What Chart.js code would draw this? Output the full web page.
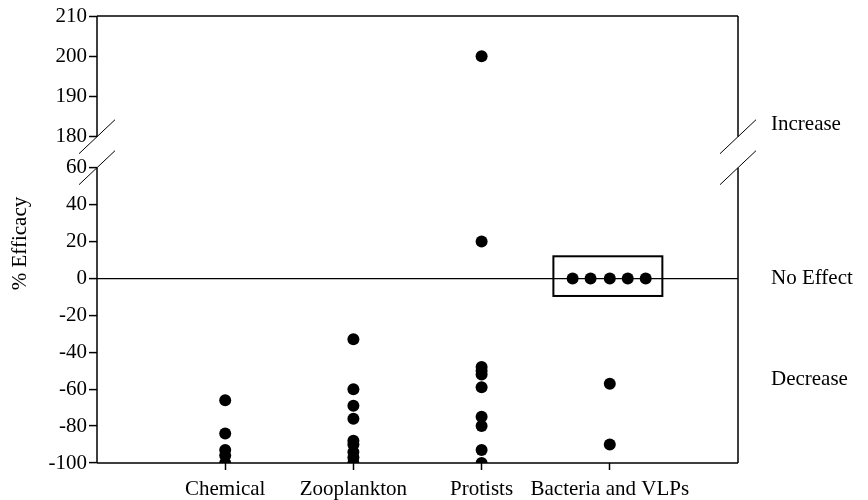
<!DOCTYPE html>
<html>
<head>
<meta charset="utf-8">
<script src="https://cdn.jsdelivr.net/npm/chart.js@4.4.0/dist/chart.umd.min.js"></script>
<style>
  html, body { margin: 0; padding: 0; background: #fff; }
  #wrap { width: 868px; height: 500px; }
</style>
</head>
<body>
<div id="wrap"><canvas id="myChart"></canvas></div>
<script>
// data
const categories = ['Chemical', 'Zooplankton', 'Protists', 'Bacteria and VLPs'];
const chemical = [-66, -84, -93, -96, -100];
const zooplankton = [-33, -60, -69, -76, -88, -90, -94, -97, -100];
const protists = [200, 20, -48, -50, -52, -59, -75, -80, -93, -100];
const bacteria = [0, 0, 0, 0, 0, -57, -90];
const bacteriaOffsets = [-0.29, -0.15, 0, 0.14, 0.28, 0, 0];
const lowerTicks = [-100, -80, -60, -40, -20, 0, 20, 40, 60];
const upperTicks = [180, 190, 200, 210];
const sideLabels = ['Increase', 'No Effect', 'Decrease'];

const FONT = 'Liberation Serif';
const FSIZE = 21;
const series = [chemical, zooplankton, protists, bacteria];

// split points into the lower and the upper (broken) part of the axis
var lowPts = [], highPts = [];
series.forEach(function (vals, i) {
    vals.forEach(function (v, j) {
        var off = (i === 3) ? bacteriaOffsets[j] : 0;
        var p = { x: i + 1 + off, y: v };
        if (v >= 180) highPts.push(p); else lowPts.push(p);
    });
});

const framePlugin = {
    id: 'frame',
    afterDraw(chart) {
        const ctx = chart.ctx;
        const a = chart.chartArea;
        const lo = chart.scales.y, hi = chart.scales.yTop, xs = chart.scales.x;
        const yBreakTop = hi.getPixelForValue(180);
        const yBreakBot = lo.getPixelForValue(60);
        ctx.save();
        ctx.strokeStyle = '#000';
        ctx.lineWidth = 1.5;
        ctx.beginPath();
        ctx.moveTo(a.left, a.top); ctx.lineTo(a.right, a.top);
        ctx.moveTo(a.left, a.bottom); ctx.lineTo(a.right, a.bottom);
        [a.left, a.right].forEach(function (x) {
            ctx.moveTo(x, a.top); ctx.lineTo(x, yBreakTop);
            ctx.moveTo(x, yBreakBot); ctx.lineTo(x, a.bottom);
        });
        ctx.stroke();

        // break slashes
        ctx.lineWidth = 1;
        ctx.beginPath();
        [a.left, a.right].forEach(function (x) {
            [yBreakTop, yBreakBot].forEach(function (y) {
                ctx.moveTo(x - 18, y + 17);
                ctx.lineTo(x + 18, y - 17);
            });
        });
        ctx.stroke();

        // box round the no-effect points
        ctx.lineWidth = 2;
        var bx1 = xs.getPixelForValue(3.56), bx2 = xs.getPixelForValue(4.41);
        var by1 = lo.getPixelForValue(12), by2 = lo.getPixelForValue(-9.5);
        ctx.strokeRect(bx1, by1, bx2 - bx1, by2 - by1);

        // side labels
        ctx.fillStyle = '#000';
        ctx.font = FSIZE + 'px "' + FONT + '"';
        ctx.textAlign = 'left';
        ctx.textBaseline = 'middle';
        ctx.fillText(sideLabels[0], a.right + 33, hi.getPixelForValue(183));
        ctx.fillText(sideLabels[1], a.right + 33, lo.getPixelForValue(0));
        ctx.fillText(sideLabels[2], a.right + 33, lo.getPixelForValue(-55));

        // y axis title
        ctx.translate(20, (a.top + a.bottom) / 2 + 4);
        ctx.rotate(-Math.PI / 2);
        ctx.textAlign = 'center';
        ctx.fillText('% Efficacy', 0, 0);
        ctx.restore();
    }
};

new Chart('myChart', {
    type: 'scatter',
    data: {
        datasets: [{
            data: lowPts,
            yAxisID: 'y',
            backgroundColor: '#000',
            borderWidth: 0,
            pointRadius: 6,
            pointHoverRadius: 6
        }, {
            data: highPts,
            yAxisID: 'yTop',
            backgroundColor: '#000',
            borderWidth: 0,
            pointRadius: 6,
            pointHoverRadius: 6
        }]
    },
    options: {
        responsive: true,
        maintainAspectRatio: false,
        animation: false,
        layout: { padding: { left: 0, right: 130, top: 16, bottom: 0 } },
        plugins: {
            legend: { display: false },
            tooltip: { enabled: false }
        },
        scales: {
            x: {
                type: 'linear',
                min: 0,
                max: 5,
                afterBuildTicks: function (s) { s.ticks = categories.map(function (c, i) { return { value: i + 1 }; }); },
                afterFit: function (s) { s.height = 37; },
                border: { display: false },
                grid: { drawOnChartArea: false, color: 'transparent', tickColor: '#000', tickLength: 7, tickWidth: 1.5 },
                ticks: {
                    color: '#000',
                    font: { family: FONT, size: FSIZE },
                    padding: 7,
                    autoSkip: false,
                    maxRotation: 0,
                    callback: function (v) { return categories[v - 1]; }
                }
            },
            y: {
                type: 'linear',
                position: 'left',
                stack: 'eff',
                stackWeight: 295.3,
                weight: 0,
                min: -100,
                max: 60,
                afterBuildTicks: function (s) { s.ticks = lowerTicks.map(function (v) { return { value: v }; }); },
                afterFit: function (s) { s.width = 97; },
                border: { display: false },
                grid: {
                    color: function (c) { return c.tick && c.tick.value === 0 ? '#000' : 'transparent'; },
                    lineWidth: 1.2,
                    tickColor: '#000',
                    tickLength: 8,
                    tickWidth: 1.5
                },
                ticks: { color: '#000', font: { family: FONT, size: FSIZE }, padding: 2, autoSkip: false }
            },
            yTop: {
                type: 'linear',
                position: 'left',
                stack: 'eff',
                stackWeight: 151.7,
                weight: 1,
                min: 172.3,
                max: 210,
                afterBuildTicks: function (s) { s.ticks = upperTicks.map(function (v) { return { value: v }; }); },
                afterFit: function (s) { s.width = 97; },
                border: { display: false },
                grid: { drawOnChartArea: false, color: 'transparent', tickColor: '#000', tickLength: 8, tickWidth: 1.5 },
                ticks: { color: '#000', font: { family: FONT, size: FSIZE }, padding: 2, autoSkip: false }
            }
        }
    },
    plugins: [framePlugin]
});
</script>
</body>
</html>
